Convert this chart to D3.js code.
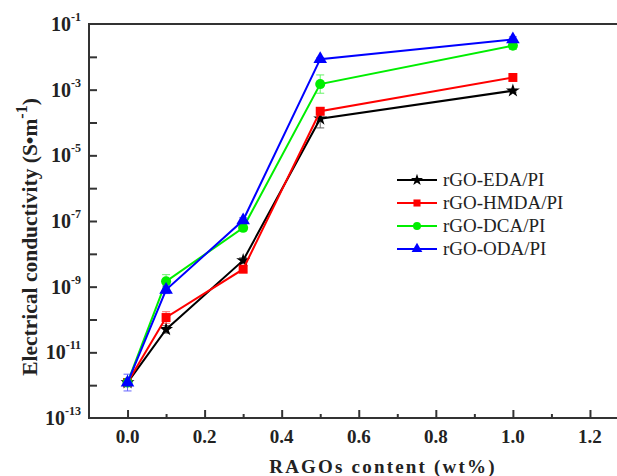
<!DOCTYPE html>
<html>
<head>
<meta charset="utf-8">
<script src="https://cdn.jsdelivr.net/npm/d3@7"></script>
<style>
  body { margin: 0; background: #fff; }
  svg text { font-family: "Liberation Serif", "Times New Roman", serif; }
</style>
</head>
<body>
<div id="plot"></div>
<script>
// data
const contents = [0.0, 0.1, 0.3, 0.5, 1.0];
const edaVals  = [1.2e-12, 5.0e-11, 6.3e-9, 1.3e-4, 9.3e-4];
const hmdaVals = [1.2e-12, 1.15e-10, 3.4e-9, 2.2e-4, 2.35e-3];
const dcaVals  = [1.2e-12, 1.45e-9, 6.2e-8, 1.48e-3, 2.2e-2];
const odaVals  = [1.2e-12, 8.0e-10, 1.05e-7, 8.5e-3, 3.4e-2];
// error bars as multiplicative factors (up / down)
const edaErr  = [1.3, 1.3, 1.2, 1.9, 1.1];
const hmdaErr = [1.3, 1.5, 1.2, 1.3, 1.2];
const dcaErr  = [1.3, 1.6, 1.2, 1.9, 1.3];
const odaErr  = [1.8, 1.3, 1.2, 1.1, 1.2];
const seriesNames = ['rGO-EDA/PI', 'rGO-HMDA/PI', 'rGO-DCA/PI', 'rGO-ODA/PI'];
const seriesColors = ['#000000', '#ff0000', '#00ee00', '#0000ff'];
const seriesSymbols = [d3.symbolStar, d3.symbolSquare, d3.symbolCircle, d3.symbolTriangle];
const xTicks = [0.0, 0.2, 0.4, 0.6, 0.8, 1.0, 1.2];
const yExps = [-1, -3, -5, -7, -9, -11, -13];

const W = 617, H = 476;
const margin = {left: 89, top: 24};

const svg = d3.select('#plot').append('svg').attr('width', W).attr('height', H);

const x = d3.scaleLinear().domain([-0.1, 1.3]).range([margin.left, 628.5]);
const y = d3.scaleLog().domain([1e-13, 1e-1]).range([418, margin.top]);

const allVals = [edaVals, hmdaVals, dcaVals, odaVals];
const allErr = [edaErr, hmdaErr, dcaErr, odaErr];
const series = seriesNames.map((name, i) => ({
  name, color: seriesColors[i], symbol: seriesSymbols[i],
  points: contents.map((c, j) => ({x: c, y: allVals[i][j], f: allErr[i][j]}))
}));

//frame
svg.append('rect')
  .attr('x', x(-0.1)).attr('y', y(1e-1))
  .attr('width', x(1.3) - x(-0.1)).attr('height', y(1e-13) - y(1e-1))
  .attr('fill', 'none').attr('stroke', '#333').attr('stroke-width', 2);

// x axis, ticks inward
const xAxis = svg.append('g').attr('transform', `translate(0,${y(1e-13)})`);
xAxis.call(d3.axisTop(x).tickValues(d3.range(0, 13).map(i => i / 10))
  .tickSize(4).tickFormat(''));
xAxis.call(g => g.selectAll('.tick line').attr('stroke', '#333').attr('stroke-width', 2)
  .attr('y2', d => xTicks.includes(d) ? -8 : -4));
xAxis.select('.domain').remove();
svg.append('g').selectAll('text').data(xTicks).join('text')
  .attr('x', d => x(d)).attr('y', 443)
  .attr('text-anchor', 'middle')
  .attr('font-size', 19).attr('font-weight', 'bold').attr('fill', '#222')
  .text(d => d.toFixed(1));

// y axis, ticks inward every decade
const yAxis = svg.append('g').attr('transform', `translate(${x(-0.1)},0)`);
yAxis.call(d3.axisRight(y).tickValues(d3.range(-12, -1).map(e => Math.pow(10, e))).tickSize(8).tickFormat(''));
yAxis.select('.domain').remove();
yAxis.selectAll('.tick line').attr('stroke', '#333').attr('stroke-width', 2);

const yLab = svg.append('g').selectAll('text').data(yExps).join('text')
  .attr('x', 81).attr('y', d => y(Math.pow(10, d)) + 7)
  .attr('text-anchor', 'end')
  .attr('font-weight', 'bold').attr('fill', '#222');
yLab.append('tspan').attr('font-size', 20).text('10');
yLab.append('tspan').attr('font-size', 12).attr('dy', -10).text(d => d);

// axis titles
svg.append('text')
  .attr('x', 383).attr('y', 473)
  .attr('text-anchor', 'middle')
  .attr('font-size', 19).attr('font-weight', 'bold').attr('letter-spacing', 2.2)
  .attr('fill', '#222')
  .text('RAGOs content (wt%)');

const yTitle = svg.append('text')
  .attr('transform', 'translate(37,237) rotate(-90)')
  .attr('text-anchor', 'middle')
  .attr('font-size', 21.5).attr('font-weight', 'bold').attr('fill', '#222');
yTitle.append('tspan').text('Electrical conductivity (S\u2022m');
yTitle.append('tspan').attr('dy', -10).attr('font-size', 16).text('-1');
yTitle.append('tspan').attr('dy', 10).text(')');

// series
const line = d3.line().x(d => x(d.x)).y(d => y(d.y));
const gS = svg.append('g').selectAll('g').data(series).join('g');

gS.append('path')
  .attr('d', d => line(d.points))
  .attr('fill', 'none').attr('stroke', d => d.color).attr('stroke-width', 2);

// error bars
gS.each(function(s) {
  const g = d3.select(this);
  const eb = g.selectAll('.err').data(s.points).join('g').attr('class', 'err')
    .attr('stroke', s.color).attr('stroke-width', 1).attr('opacity', 0.6);
  eb.append('line')
    .attr('x1', d => x(d.x)).attr('x2', d => x(d.x))
    .attr('y1', d => y(d.y * d.f)).attr('y2', d => y(d.y / d.f));
  eb.append('line')
    .attr('x1', d => x(d.x) - 4).attr('x2', d => x(d.x) + 4)
    .attr('y1', d => y(d.y * d.f)).attr('y2', d => y(d.y * d.f));
  eb.append('line')
    .attr('x1', d => x(d.x) - 4).attr('x2', d => x(d.x) + 4)
    .attr('y1', d => y(d.y / d.f)).attr('y2', d => y(d.y / d.f));
});

gS.selectAll('.pt').data(s => s.points.map(p => ({...p, s}))).join('path')
  .attr('class', 'pt')
  .attr('transform', d => `translate(${x(d.x)},${y(d.y)})`)
  .attr('d', d => d3.symbol().type(d.s.symbol).size(d.s.symbol === d3.symbolStar ? 60 : 80)())
  .attr('fill', d => d.s.color);

// legend
const legend = svg.append('g').attr('transform', 'translate(397,180)');
const li = legend.selectAll('g').data(series).join('g')
  .attr('transform', (d, i) => `translate(0,${i * 23})`);
li.append('line').attr('x1', 0).attr('x2', 40).attr('y1', 0).attr('y2', 0)
  .attr('stroke', d => d.color).attr('stroke-width', 2);
li.append('path')
  .attr('transform', 'translate(20,0)')
  .attr('d', d => d3.symbol().type(d.symbol).size(d.symbol === d3.symbolStar ? 45 : 50)())
  .attr('fill', d => d.color);
li.append('text')
  .attr('x', 46).attr('y', 6)
  .attr('font-size', 19).attr('fill', '#222')
  .text(d => d.name);
</script>
</body>
</html>
